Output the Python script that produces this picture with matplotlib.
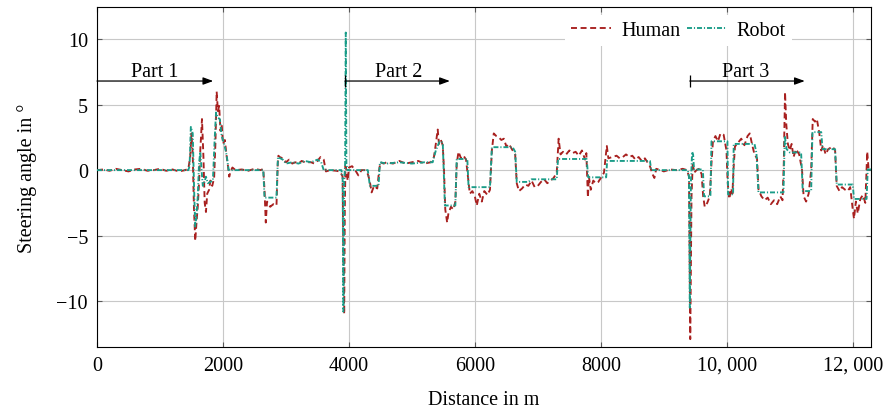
import matplotlib
matplotlib.use("Agg")
import matplotlib.pyplot as plt
from matplotlib.ticker import FixedLocator, FixedFormatter

# ---------------- data ----------------
human_x = [0, 100, 200, 300, 400, 500, 600, 700, 800, 900, 1000, 1100, 1200, 1300, 1400, 1450,
           1480, 1500, 1520, 1540, 1560, 1580, 1600, 1620, 1640, 1667, 1690, 1710, 1730, 1750,
           1780, 1800, 1830, 1860, 1880, 1900, 1920, 1940, 1960, 1980, 2000, 2030, 2060, 2080,
           2100, 2120, 2150, 2200, 2300, 2400, 2500, 2600, 2640, 2660, 2680, 2700, 2750, 2800,
           2850, 2870, 2880, 2900, 2950, 3000, 3050, 3100, 3150, 3200, 3250, 3300, 3400, 3450,
           3500, 3550, 3600, 3635, 3700, 3800, 3850, 3880, 3900, 3915, 3925, 3935, 3945, 3960,
           3980, 4000, 4050, 4100, 4150, 4200, 4250, 4300, 4330, 4360, 4400, 4450, 4480, 4500,
           4550, 4600, 4700, 4800, 4900, 5000, 5100, 5200, 5300, 5350, 5380, 5410, 5430, 5460,
           5490, 5510, 5530, 5560, 5580, 5620, 5660, 5690, 5712, 5740, 5780, 5820, 5860, 5890,
           5920, 5960, 6000, 6030, 6070, 6110, 6150, 6200, 6240, 6270, 6300, 6340, 6380, 6420,
           6460, 6500, 6540, 6600, 6640, 6665, 6700, 6750, 6800, 6850, 6900, 6950, 7000, 7050,
           7100, 7150, 7200, 7250, 7300, 7330, 7360, 7400, 7450, 7500, 7550, 7600, 7650, 7700,
           7750, 7770, 7795, 7810, 7840, 7880, 7920, 7960, 8000, 8050, 8095, 8120, 8180, 8250,
           8300, 8350, 8400, 8450, 8500, 8550, 8600, 8650, 8700, 8780, 8820, 8850, 8880, 8950,
           9000, 9100, 9200, 9300, 9370, 9400, 9420, 9440, 9460, 9480, 9520, 9560, 9600, 9625,
           9650, 9690, 9730, 9757, 9780, 9820, 9860, 9900, 9950, 9995, 10015, 10040, 10070,
           10090, 10106, 10130, 10180, 10230, 10280, 10330, 10365, 10400, 10440, 10480, 10505,
           10550, 10600, 10650, 10700, 10750, 10800, 10850, 10885, 10905, 10925, 10945, 10970,
           11000, 11030, 11060, 11100, 11150, 11195, 11220, 11260, 11300, 11340, 11365, 11400,
           11430, 11470, 11500, 11530, 11570, 11610, 11680, 11720, 11745, 11790, 11830, 11880,
           11920, 11960, 12000, 12020, 12050, 12080, 12120, 12160, 12200, 12230, 12250, 12290]
human_y = [0.0, 0.05, -0.05, 0.1, 0.0, -0.1, 0.05, 0.1, -0.05, 0.0, 0.1, -0.05, 0.05, -0.1, 0.0, 0.1,
           1.0, 2.8, 1.2, -3.0, -5.4, -4.0, -2.8, -1.0, 1.5, 3.9, 1.0, -2.5, -3.2, -1.8,
           -1.5, -0.8, -1.2, -0.6, 2.0, 6.0, 4.5, 4.9, 3.0, 3.5, 2.0, 2.3, 1.0, 0.3,
           -0.5, -0.1, 0.2, 0.0, 0.05, -0.05, 0.1, 0.0, 0.1, -1.5, -4.0, -2.4, -2.8, -2.6,
           -2.7, 0.5, 1.1, 1.0, 0.9, 0.6, 0.8, 0.5, 0.6, 0.5, 0.7, 0.6, 0.6, 0.5,
           0.7, 1.0, 0.8, -0.1, 0.0, -0.05, -0.1, -0.3, -0.5, -8.0, -11.0, -3.0, 0.3, 0.0,
           -0.8, 0.2, 0.3, 0.0, -0.4, 0.0, 0.0, -0.3, -0.8, -1.7, -1.2, -1.4, 0.0, 0.6,
           0.5, 0.6, 0.5, 0.7, 0.5, 0.6, 0.7, 0.5, 0.6, 1.0, 2.0, 3.1, 2.0, 2.3,
           1.9, 0.0, -3.0, -4.0, -3.3, -2.8, -3.0, -2.4, 0.5, 1.4, 0.9, 1.1, 0.8, -0.5,
           -1.8, -1.6, -2.0, -2.7, -1.8, -2.4, -1.6, -1.9, -1.5, 1.5, 2.8, 2.6, 2.5, 2.3,
           2.4, 1.8, 2.0, 1.5, 1.2, -1.0, -1.6, -1.4, -1.1, -1.2, -0.8, -1.3, -1.2, -0.9,
           -0.7, -1.0, -0.8, -0.6, -0.2, 2.4, 1.2, 1.4, 1.2, 1.5, 1.3, 1.4, 1.1, 1.5,
           0.8, 1.3, -2.1, -0.5, -1.5, -0.8, -1.0, -0.9, -0.6, -0.2, 1.85, 0.9, 1.0, 1.1,
           0.9, 1.0, 1.2, 1.0, 1.1, 0.8, 1.0, 0.7, 0.9, 0.3, -0.3, -0.6, 0.1, 0.0,
           -0.1, 0.05, 0.0, 0.1, 0.0, -0.5, -12.9, -2.0, 0.6, -0.2, 0.0, 0.1, -0.3, -2.0,
           -2.8, -2.5, -2.0, 0.5, 2.2, 2.6, 2.2, 2.8, 2.7, 1.5, -1.0, -2.2, -1.4,
           -1.8, 0.0, 1.8, 2.1, 2.4, 1.9, 2.6, 2.8, 2.0, 1.2, 0.9, -1.5,
           -2.0, -2.3, -2.1, -2.6, -2.3, -2.6, -2.0, -2.3, 0.5, 5.95, 3.5, 2.0,
           1.5, 2.0, 1.0, 1.6, 1.2, 0.0, -2.0, -2.4, -1.8, 0.0, 3.9, 3.7,
           3.9, 2.8, 1.5, 1.9, 1.2, 1.6, 1.8, 1.5, -1.2, -1.6, -1.3, -1.5,
           -1.6, -1.3, -3.0, -3.7, -2.4, -3.3, -2.2, -1.9, -2.5, 1.4, 0.2, 0.0]

robot_x = [0, 1450, 1470, 1490, 1520, 1545, 1560, 1580, 1600, 1620, 1640, 1660, 1680, 1700,
           1730, 1760, 1800, 1840, 1870, 1890, 1920, 1950, 1980, 2020, 2060, 2090, 2640, 2660,
           2850, 2873, 2950, 3000, 3100, 3200, 3300, 3400, 3500, 3560, 3600, 3880, 3900, 3912,
           3925, 3940, 3950, 3960, 3975, 4300, 4333, 4470, 4492, 4600, 4800, 5000, 5200, 5330,
           5380, 5440, 5490, 5524, 5690, 5712, 5880, 5900, 6240, 6270, 6600, 6640, 6665, 6850,
           6900, 7300, 7320, 7775, 7800, 8085, 8100, 8780, 8800, 9380, 9400, 9413, 9430, 9450,
           9465, 9480, 9620, 9640, 9740, 9757, 10010, 10021, 10100, 10110, 10440, 10471, 10503,
           10900, 10921, 10950, 11000, 11180, 11206, 11340, 11360, 11500, 11520, 11720, 11746,
           12000, 12020, 12220, 12238, 12290]
robot_y = [0.0, 0.0, 0.3, 3.3, 2.8, -2.0, -4.3, -3.5, -2.0, 0.5, 1.4, 0.0, -1.2, -1.0,
           -0.5, -1.0, -0.9, -0.8, 2.5, 4.4, 4.0, 3.9, 2.6, 2.0, 1.1, 0.0, 0.0, -2.1,
           -2.1, 1.0, 0.8, 0.5, 0.6, 0.5, 0.7, 0.6, 0.8, 0.6, 0.0, 0.0, -0.5, -10.8,
           -1.0, 0.5, 10.5, 0.5, 0.0, 0.0, -1.2, -1.2, 0.6, 0.5, 0.6, 0.5, 0.6, 0.6,
           1.5, 2.2, 2.1, -2.7, -2.7, 0.85, 0.85, -1.3, -1.3, 1.75, 1.75, 1.4, -0.9, -0.9,
           -0.7, -0.7, 0.85, 0.85, -0.55, -0.55, 0.7, 0.7, 0.0, 0.0, -0.5, -10.5, -1.0, 1.4,
           1.2, 0.05, 0.05, -2.0, -2.0, 2.2, 2.2, -1.85, -1.85, 2.0, 2.0, 1.3, -1.7,
           -1.7, 2.6, 1.6, 1.35, 1.35, -1.6, -1.6, 2.9, 2.9, 1.6, 1.6, -1.1,
           -1.1, -2.2, -2.2, 0.05, 0.05]

x_ticks = [0, 2000, 4000, 6000, 8000, 10000, 12000]
x_tick_labels = ["0", "2000", "4000", "6000", "8000", "10, 000", "12, 000"]
y_ticks = [-10, -5, 0, 5, 10]
y_tick_labels = ["\u221210", "\u22125", "0", "5", "10"]

parts = ["Part 1", "Part 2", "Part 3"]
part_start = [0, 3937, 9413]
part_end = [1845, 5603, 11238]
part_label_x = [920, 4794, 10300]
part_level = 6.8

# ---------------- style ----------------
plt.rcParams["font.family"] = ["Liberation Serif", "DejaVu Serif"]
plt.rcParams["font.size"] = 14.5
plt.rcParams["lines.scale_dashes"] = False

human_color = "#A8201F"
robot_color = "#1A9C88"

fig = plt.figure(figsize=(8.88, 4.10), dpi=100)
ax = fig.add_axes([97 / 888, 1 - 348 / 410, 774 / 888, 340 / 410])

ax.plot(human_x, human_y, color=human_color, lw=1.35, dashes=(4.3, 2.6), label="Human", zorder=3)
ax.plot(robot_x, robot_y, color=robot_color, lw=1.35, dashes=(3.6, 1.4, 0.8, 1.4),
        label="Robot", zorder=4)

ax.set_xlim(0, 12290)
ax.set_ylim(-13.5, 12.45)

ax.xaxis.set_major_locator(FixedLocator(x_ticks))
ax.xaxis.set_major_formatter(FixedFormatter(x_tick_labels))
ax.yaxis.set_major_locator(FixedLocator(y_ticks))
ax.yaxis.set_major_formatter(FixedFormatter(y_tick_labels))

ax.grid(True, color="#c8c8c8", lw=0.8, zorder=0)
ax.set_axisbelow(True)
ax.tick_params(direction="in", length=3.5, width=0.8, color="0.35",
               top=True, right=True, labelsize=14.5, pad=6.5)
for s in ax.spines.values():
    s.set_linewidth(0.8)
    s.set_color("black")

ax.set_xlabel("Distance in m", fontsize=14.5, labelpad=11)
ax.set_ylabel("Steering angle in \u00b0", fontsize=14.5, labelpad=14)

# part annotations
for i, (name, x0, x1, lx) in enumerate(zip(parts, part_start, part_end, part_label_x)):
    ax.annotate("", xy=(x1, part_level), xytext=(x0, part_level),
                arrowprops=dict(arrowstyle="-|>,head_length=0.6,head_width=0.22",
                                color="black", lw=0.9,
                                shrinkA=0, shrinkB=0, mutation_scale=10),
                annotation_clip=False, zorder=5)
    if i > 0:
        ax.plot([x0], [part_level], marker="|", markersize=8, mew=0.9,
                color="black", zorder=5)
    ax.text(lx, part_level + 0.72, name, ha="center", va="center", fontsize=14.5, zorder=5)

leg = ax.legend(loc="upper right", bbox_to_anchor=(0.898, 0.976), ncol=2,
                frameon=True, fancybox=False, framealpha=1, facecolor="white",
                edgecolor="none", handlelength=2.0, handletextpad=0.5,
                columnspacing=0.3, borderpad=0.3, borderaxespad=0, fontsize=14.5)
leg.set_zorder(6)

fig.savefig("out.png", dpi=100)
